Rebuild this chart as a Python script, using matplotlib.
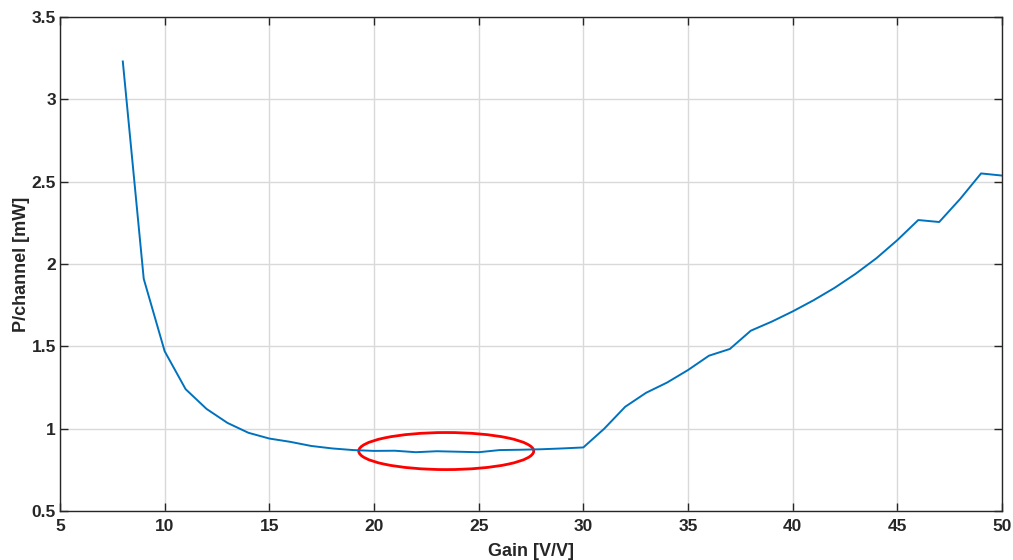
import matplotlib
matplotlib.use("Agg")
import matplotlib.pyplot as plt
from matplotlib.patches import Ellipse

plt.rcParams['font.family'] = ['Liberation Sans', 'DejaVu Sans']
plt.rcParams['font.weight'] = 'bold'

gain = list(range(8, 51))
power = [3.23, 1.91, 1.47, 1.24, 1.12, 1.035, 0.975, 0.94, 0.92, 0.895,
         0.88, 0.87, 0.865, 0.866, 0.857, 0.863, 0.86, 0.857, 0.87, 0.872,
         0.875, 0.88, 0.886, 1.0, 1.133, 1.218, 1.28, 1.356, 1.443, 1.484,
         1.595, 1.65, 1.712, 1.78, 1.855, 1.94, 2.035, 2.145, 2.267, 2.255,
         2.395, 2.55, 2.537]

x_ticks = [5, 10, 15, 20, 25, 30, 35, 40, 45, 50]
y_ticks = [0.5, 1, 1.5, 2, 2.5, 3, 3.5]
y_tick_labels = ['0.5', '1', '1.5', '2', '2.5', '3', '3.5']

# highlighted flat region
ellipse_center = (23.45, 0.864)
ellipse_size = (8.36, 0.225)

axis_color = '#262626'

fig = plt.figure(figsize=(10.13, 5.6), dpi=100)
ax = fig.add_axes([60 / 1013, 1 - 511 / 560, 942 / 1013, 494 / 560])

ax.plot(gain, power, color='#0072BD', linewidth=1.4)
ax.add_patch(Ellipse(ellipse_center, ellipse_size[0], ellipse_size[1],
                     fill=False, edgecolor='red', linewidth=2))

ax.set_xlim(5, 50)
ax.set_ylim(0.5, 3.5)
ax.set_xticks(x_ticks)
ax.set_yticks(y_ticks)
ax.set_yticklabels(y_tick_labels)
ax.grid(True, color='#d9d9d9', linewidth=1)
ax.set_axisbelow(True)

ax.tick_params(direction='in', length=6, width=1, colors=axis_color,
               labelsize=12.5, top=True, right=True, labeltop=False,
               labelright=False)
ax.tick_params(axis='x', pad=6)
ax.tick_params(axis='y', pad=3)
for lbl in ax.get_xticklabels() + ax.get_yticklabels():
    lbl.set_fontweight('bold')
for s in ax.spines.values():
    s.set_color(axis_color)
    s.set_linewidth(1)

ax.set_xlabel('Gain [V/V]', fontsize=13, fontweight='bold', color=axis_color, labelpad=6)
ax.set_ylabel('P/channel [mW]', fontsize=13, fontweight='bold', color=axis_color, labelpad=1)

fig.savefig('out.png', dpi=100)
